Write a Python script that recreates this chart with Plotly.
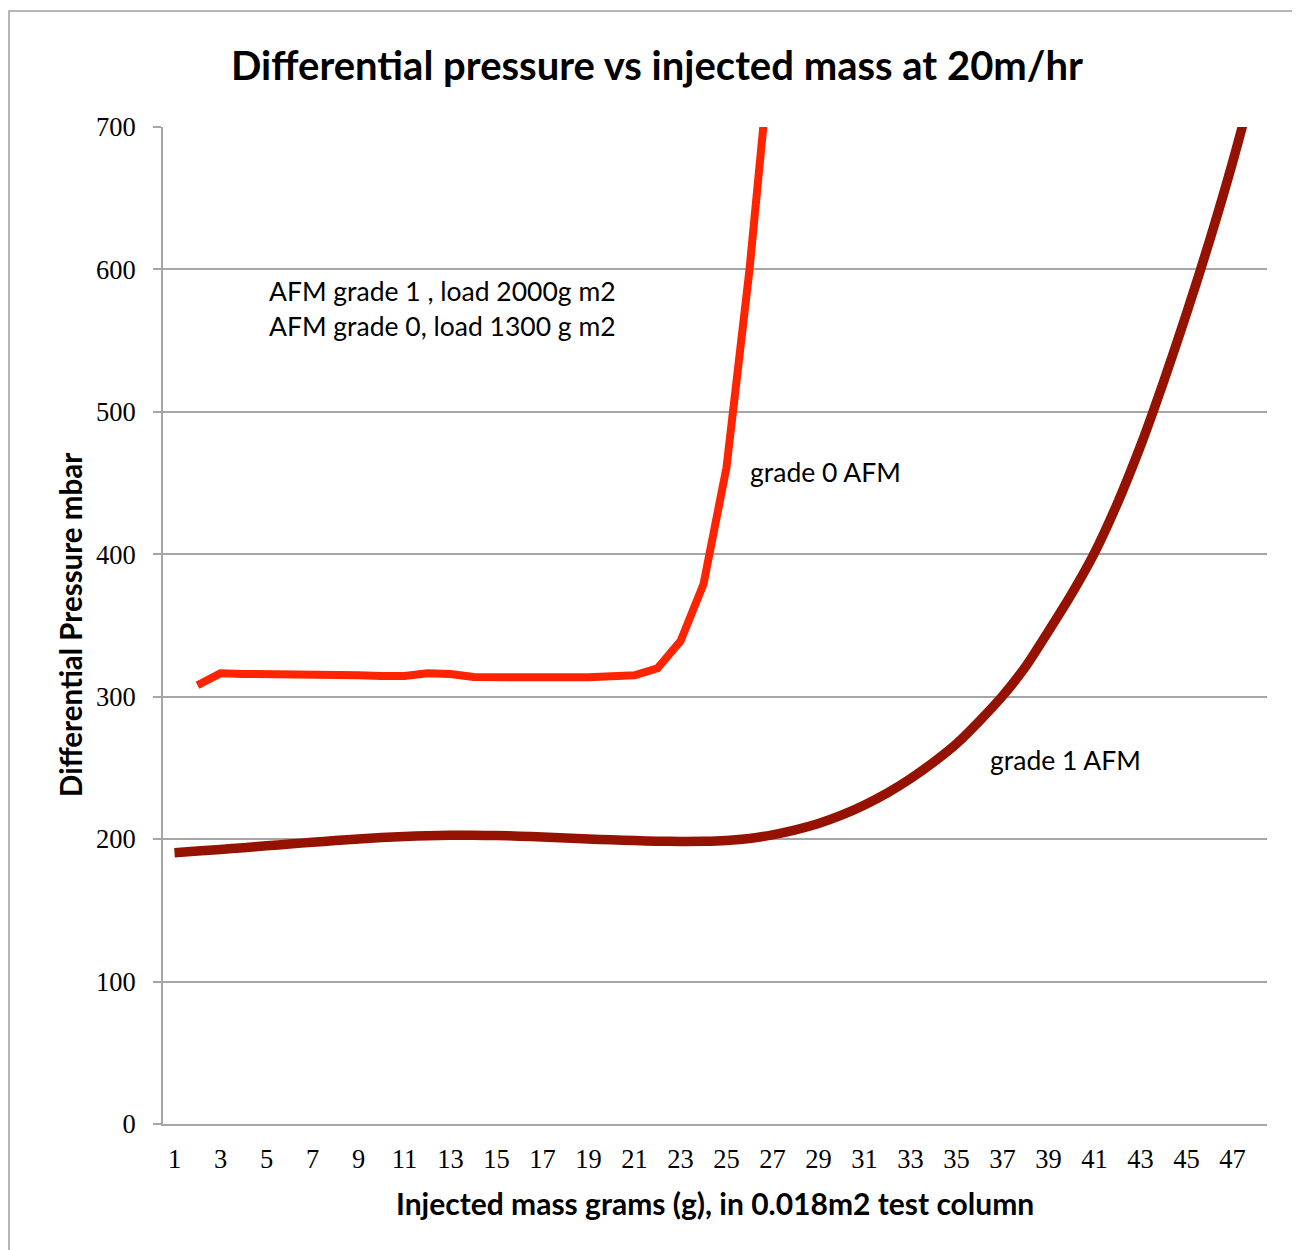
import plotly.graph_objects as go

# ---- data ----
mass_grade1 = list(range(1, 49))
dp_grade1 = [190.5, 191.6, 192.8, 194.0, 195.3, 196.6, 197.8, 199.0, 200.1, 201.1,
             201.9, 202.4, 202.7, 202.7, 202.5, 202.1, 201.5, 200.8, 200.1, 199.5,
             199.0, 198.6, 198.4, 198.5, 199.1, 200.5, 203.0, 206.5, 211.0, 216.8,
             224.0, 232.5, 242.5, 254.0, 267.0, 283.0, 300.5, 321.0, 346.0, 372.0,
             401.0, 436.0, 476.0, 521.0, 569.0, 620.0, 675.0, 735.0]

mass_grade0 = list(range(2, 28))
dp_grade0 = [308, 316.5, 316, 316, 316, 316, 316, 315, 314.5, 314.5,
             316.5, 316, 313.8, 313.4, 313.4, 313.6, 313.6, 313.6, 314, 315,
             320, 339, 379, 461, 600, 767]

x_ticks = list(range(1, 48, 2))
y_ticks = [0, 100, 200, 300, 400, 500, 600, 700]

title_text = "Differential pressure vs injected mass at 20m/hr"
x_title = "Injected mass grams (g), in 0.018m2 test column"
y_title = "Differential Pressure mbar"
note1 = "AFM grade 1 , load 2000g m2"
note2 = "AFM grade 0, load 1300 g m2"
label0 = "grade 0 AFM"
label1 = "grade 1 AFM"

SANS = "Lato"
SERIF = "Liberation Serif"
GRID = "#a6a6a6"

W, H = 1292, 1242
fig = go.Figure()
fig.add_trace(go.Scatter(x=mass_grade1, y=dp_grade1, mode="lines",
                         line=dict(color="#951200", width=9.5, shape="spline", smoothing=0.8),
                         name=label1, showlegend=False))
fig.add_trace(go.Scatter(x=mass_grade0, y=dp_grade0, mode="lines",
                         line=dict(color="#FF2400", width=8),
                         name=label0, showlegend=False))

fig.update_layout(
    width=W, height=H,
    margin=dict(l=155, r=33, t=119, b=126),
    paper_bgcolor="white", plot_bgcolor="white",
    title=dict(text="<b>%s</b>" % title_text, x=(657 - 8) / W, xanchor="center",
               y=1 - (66 - 8) / H, yanchor="middle", yref="container",
               font=dict(family=SANS, size=40, color="black")),
    xaxis=dict(range=[0.5, 48.5], tickmode="array", tickvals=x_ticks,
               ticktext=[str(v) for v in x_ticks], showgrid=False, zeroline=False,
               showline=True, linecolor=GRID, linewidth=2, ticks="",
               ticklabelstandoff=10,
               tickfont=dict(family=SERIF, size=26.5, color="black")),
    yaxis=dict(range=[0, 700], tickmode="array", tickvals=y_ticks, showgrid=True,
               gridcolor=GRID, gridwidth=1.5, zeroline=False, showline=True,
               linecolor=GRID, linewidth=2, ticks="outside", ticklen=8,
               tickcolor=GRID, tickwidth=2, ticklabelstandoff=12,
               tickfont=dict(family=SERIF, size=26.5, color="black")),
    showlegend=False,
)

fig.add_annotation(text="<b>%s</b>" % y_title, xref="paper", yref="paper",
                   x=-0.0842, y=0.5005, textangle=-90, showarrow=False,
                   xanchor="center", yanchor="middle",
                   font=dict(family=SANS, size=29.5, color="black"))
fig.add_annotation(text="<b>%s</b>" % x_title, xref="paper", yref="paper",
                   x=0.5, y=-0.0792, showarrow=False,
                   xanchor="center", yanchor="middle",
                   font=dict(family=SANS, size=30, color="black"))

for txt, xv, yv in [(note1, 5.02, 584.8), (note2, 5.02, 560.3),
                    (label0, 25.93, 457.8), (label1, 36.37, 255.6)]:
    fig.add_annotation(text=txt, x=xv, y=yv, xref="x", yref="y", showarrow=False,
                       xanchor="left", yanchor="middle",
                       font=dict(family=SANS, size=26.5, color="black"))

# outer chart frame
fig.add_shape(type="rect", xref="paper", yref="paper",
              x0=(9 - 163) / 1104, x1=1.05, y0=-0.2, y1=1 + (127 - 11) / 997,
              line=dict(color="#a0a0a0", width=1.5), layer="below")

fig.write_html("out.html")
